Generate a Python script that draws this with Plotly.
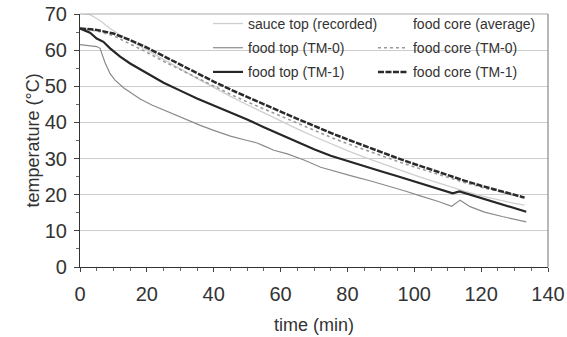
import plotly.graph_objects as go

# ---- data ----
t_sauce = [0, 3, 6, 9, 12, 15, 20, 25, 30, 35, 40, 45, 50, 55, 60, 65, 70, 75, 80, 85, 90, 95, 100, 105, 110, 115, 120, 125, 130, 133]
sauce_top = [70.2, 69.8, 68.2, 66, 64.2, 62.6, 60, 57.4, 54.8, 52.2, 49.6, 47.2, 44.9, 42.6, 40.4, 38.2, 36.1, 34.1, 32.2, 30.4, 28.7, 27, 25.4, 23.9, 22.4, 21, 19.7, 18.6, 17.6, 17.1]

t_top0 = [0, 3, 5, 6, 7.5, 9, 10.5, 13, 15.5, 18, 21.5, 25, 28.5, 32, 36, 40, 45, 50, 53, 55, 58, 62, 67, 72, 77, 82, 87, 92, 97, 102, 107, 111.2, 113.7, 116.7, 121, 126.6, 133.5]
food_top_tm0 = [61.5, 61.3, 61, 60.5, 56.5, 53.5, 51.7, 49.6, 48, 46.5, 44.8, 43.4, 42.1, 40.7, 39.2, 37.8, 36.2, 35, 34.3, 33.5, 32.3, 31.3, 29.6, 27.6, 26.2, 25, 23.8, 22.5, 21.1, 19.6, 18.2, 16.8, 18.5, 16.7, 15.2, 13.9, 12.5]

t_top1 = [0, 3, 5, 7, 9, 12, 15, 20, 25, 30, 35, 40, 45, 50, 55, 60, 65, 70, 75, 80, 85, 90, 95, 100, 105, 110, 111.5, 113.5, 116, 120, 125, 130, 133.5]
food_top_tm1 = [66, 64.8, 63.2, 62.3, 60.5, 58.2, 56.3, 53.7, 51, 48.8, 46.6, 44.7, 42.8, 40.8, 38.7, 36.6, 34.6, 32.6, 30.8, 29.3, 27.9, 26.5, 25.1, 23.7, 22.3, 20.9, 20.4, 20.9, 20.2, 19, 17.6, 16.2, 15.3]

t_core = [0, 5, 10, 15, 20, 25, 30, 35, 40, 45, 50, 55, 60, 65, 70, 75, 80, 85, 90, 95, 100, 105, 110, 115, 120, 125, 130, 133]
food_core_avg = [66, 65.45, 64.3, 62.3, 60.05, 57.6, 55.3, 52.95, 50.65, 48.45, 46.35, 44.35, 42.35, 40.35, 38.4, 36.5, 34.7, 32.95, 31.3, 29.65, 28.1, 26.55, 25.1, 23.65, 22.3, 21.05, 19.9, 19.15]
food_core_tm0 = [66, 65.3, 64, 61.8, 59.4, 56.9, 54.6, 52.3, 50, 47.8, 45.7, 43.7, 41.7, 39.7, 37.8, 35.9, 34.1, 32.4, 30.8, 29.2, 27.7, 26.2, 24.8, 23.4, 22.1, 20.9, 19.8, 19.1]
food_core_tm1 = [66, 65.6, 64.6, 62.8, 60.7, 58.3, 56, 53.6, 51.3, 49.1, 47, 45, 43, 41, 39, 37.1, 35.3, 33.5, 31.8, 30.1, 28.5, 26.9, 25.4, 23.9, 22.5, 21.2, 20, 19.2]

x_ticks = [0, 20, 40, 60, 80, 100, 120, 140]
y_ticks = [0, 10, 20, 30, 40, 50, 60, 70]

FONT = "Liberation Sans, Arial, sans-serif"

fig = go.Figure()

def add(x, y, name, color, width, dash, legend, group, rank):
    fig.add_trace(go.Scatter(
        x=x, y=y, name=name, mode="lines",
        line=dict(color=color, width=width, dash=dash),
        legend=legend, legendgroup=group, legendrank=rank,
    ))

# draw order: light lines first, dark on top
add(t_sauce, sauce_top, "sauce top (recorded)", "#cfcfcf", 1.3, "solid", "legend", "a", 1)
add(t_core, food_core_avg, "food core (average)", "rgba(255,255,255,0)", 1, "solid", "legend2", "d", 4)
add(t_core, food_core_tm0, "food core (TM-0)", "#9a9a9a", 1.6, "dot", "legend2", "e", 5)
add(t_top0, food_top_tm0, "food top (TM-0)", "#8a8a8a", 1.2, "solid", "legend", "b", 2)
add(t_top1, food_top_tm1, "food top (TM-1)", "#262626", 2.2, "solid", "legend", "c", 3)
add(t_core, food_core_tm1, "food core (TM-1)", "#2a2a2a", 2.5, "6px,1.5px", "legend2", "f", 6)

leg_common = dict(
    font=dict(family=FONT, size=14, color="#333333"),
    bgcolor="rgba(255,255,255,0)",
    yanchor="top", xanchor="left",
    tracegroupgap=3,
    itemwidth=30,
    borderwidth=0,
)

fig.update_layout(
    width=567, height=337,
    margin=dict(l=80, r=19, t=14, b=70, autoexpand=False),
    paper_bgcolor="white", plot_bgcolor="white",
    font=dict(family=FONT, color="#333333"),
    showlegend=True,
    legend=dict(x=0.2735, y=1.024, **leg_common),
    legend2=dict(x=0.626, y=1.024, **leg_common),
    xaxis=dict(
        range=[0, 140], tickvals=x_ticks, ticktext=[str(v) for v in x_ticks],
        automargin=False, ticklabeloverflow="allow",
        showgrid=False, zeroline=False,
        showline=True, linecolor="#333333", linewidth=1.2,
        ticks="outside", ticklen=4, tickcolor="#444444",
        ticklabelstandoff=5,
        minor=dict(dtick=5, ticks="outside", ticklen=3, tickcolor="#666666"),
        tickfont=dict(size=20, color="#333333"),
        title=dict(text="time (min)", font=dict(size=18, color="#333333"), standoff=14),
    ),
    yaxis=dict(
        range=[0, 70], tickvals=y_ticks, ticktext=[str(v) for v in y_ticks],
        automargin=False,
        showgrid=True, gridcolor="#cccccc", gridwidth=1,
        zeroline=False,
        showline=True, linecolor="#333333", linewidth=1.2,
        ticks="outside", ticklen=5, tickcolor="#444444",
        ticklabelstandoff=3,
        minor=dict(dtick=5, ticks="outside", ticklen=3, tickcolor="#666666"),
        tickfont=dict(size=20, color="#333333"),
        title=dict(text="temperature (°C)", font=dict(size=18, color="#333333"), standoff=0),
    ),
    shapes=[
        # white panel behind the legend (covers gridlines, stays under the traces)
        dict(type="rect", xref="paper", yref="paper", x0=0.28, x1=0.995, y0=0.74, y1=0.995,
             fillcolor="white", line=dict(width=0), layer="between"),
        dict(type="line", xref="paper", yref="paper", x0=0, x1=1, y0=1, y1=1,
             line=dict(color="#aaaaaa", width=1.2)),
        dict(type="line", xref="paper", yref="paper", x0=1, x1=1, y0=0, y1=1,
             line=dict(color="#888888", width=1.2)),
    ],
)

# remove the browser's default 8px page margin so the figure sits at (0, 0)
fig.write_html("out.html", config={"displayModeBar": False},
               post_script="document.body.style.margin='0';")
